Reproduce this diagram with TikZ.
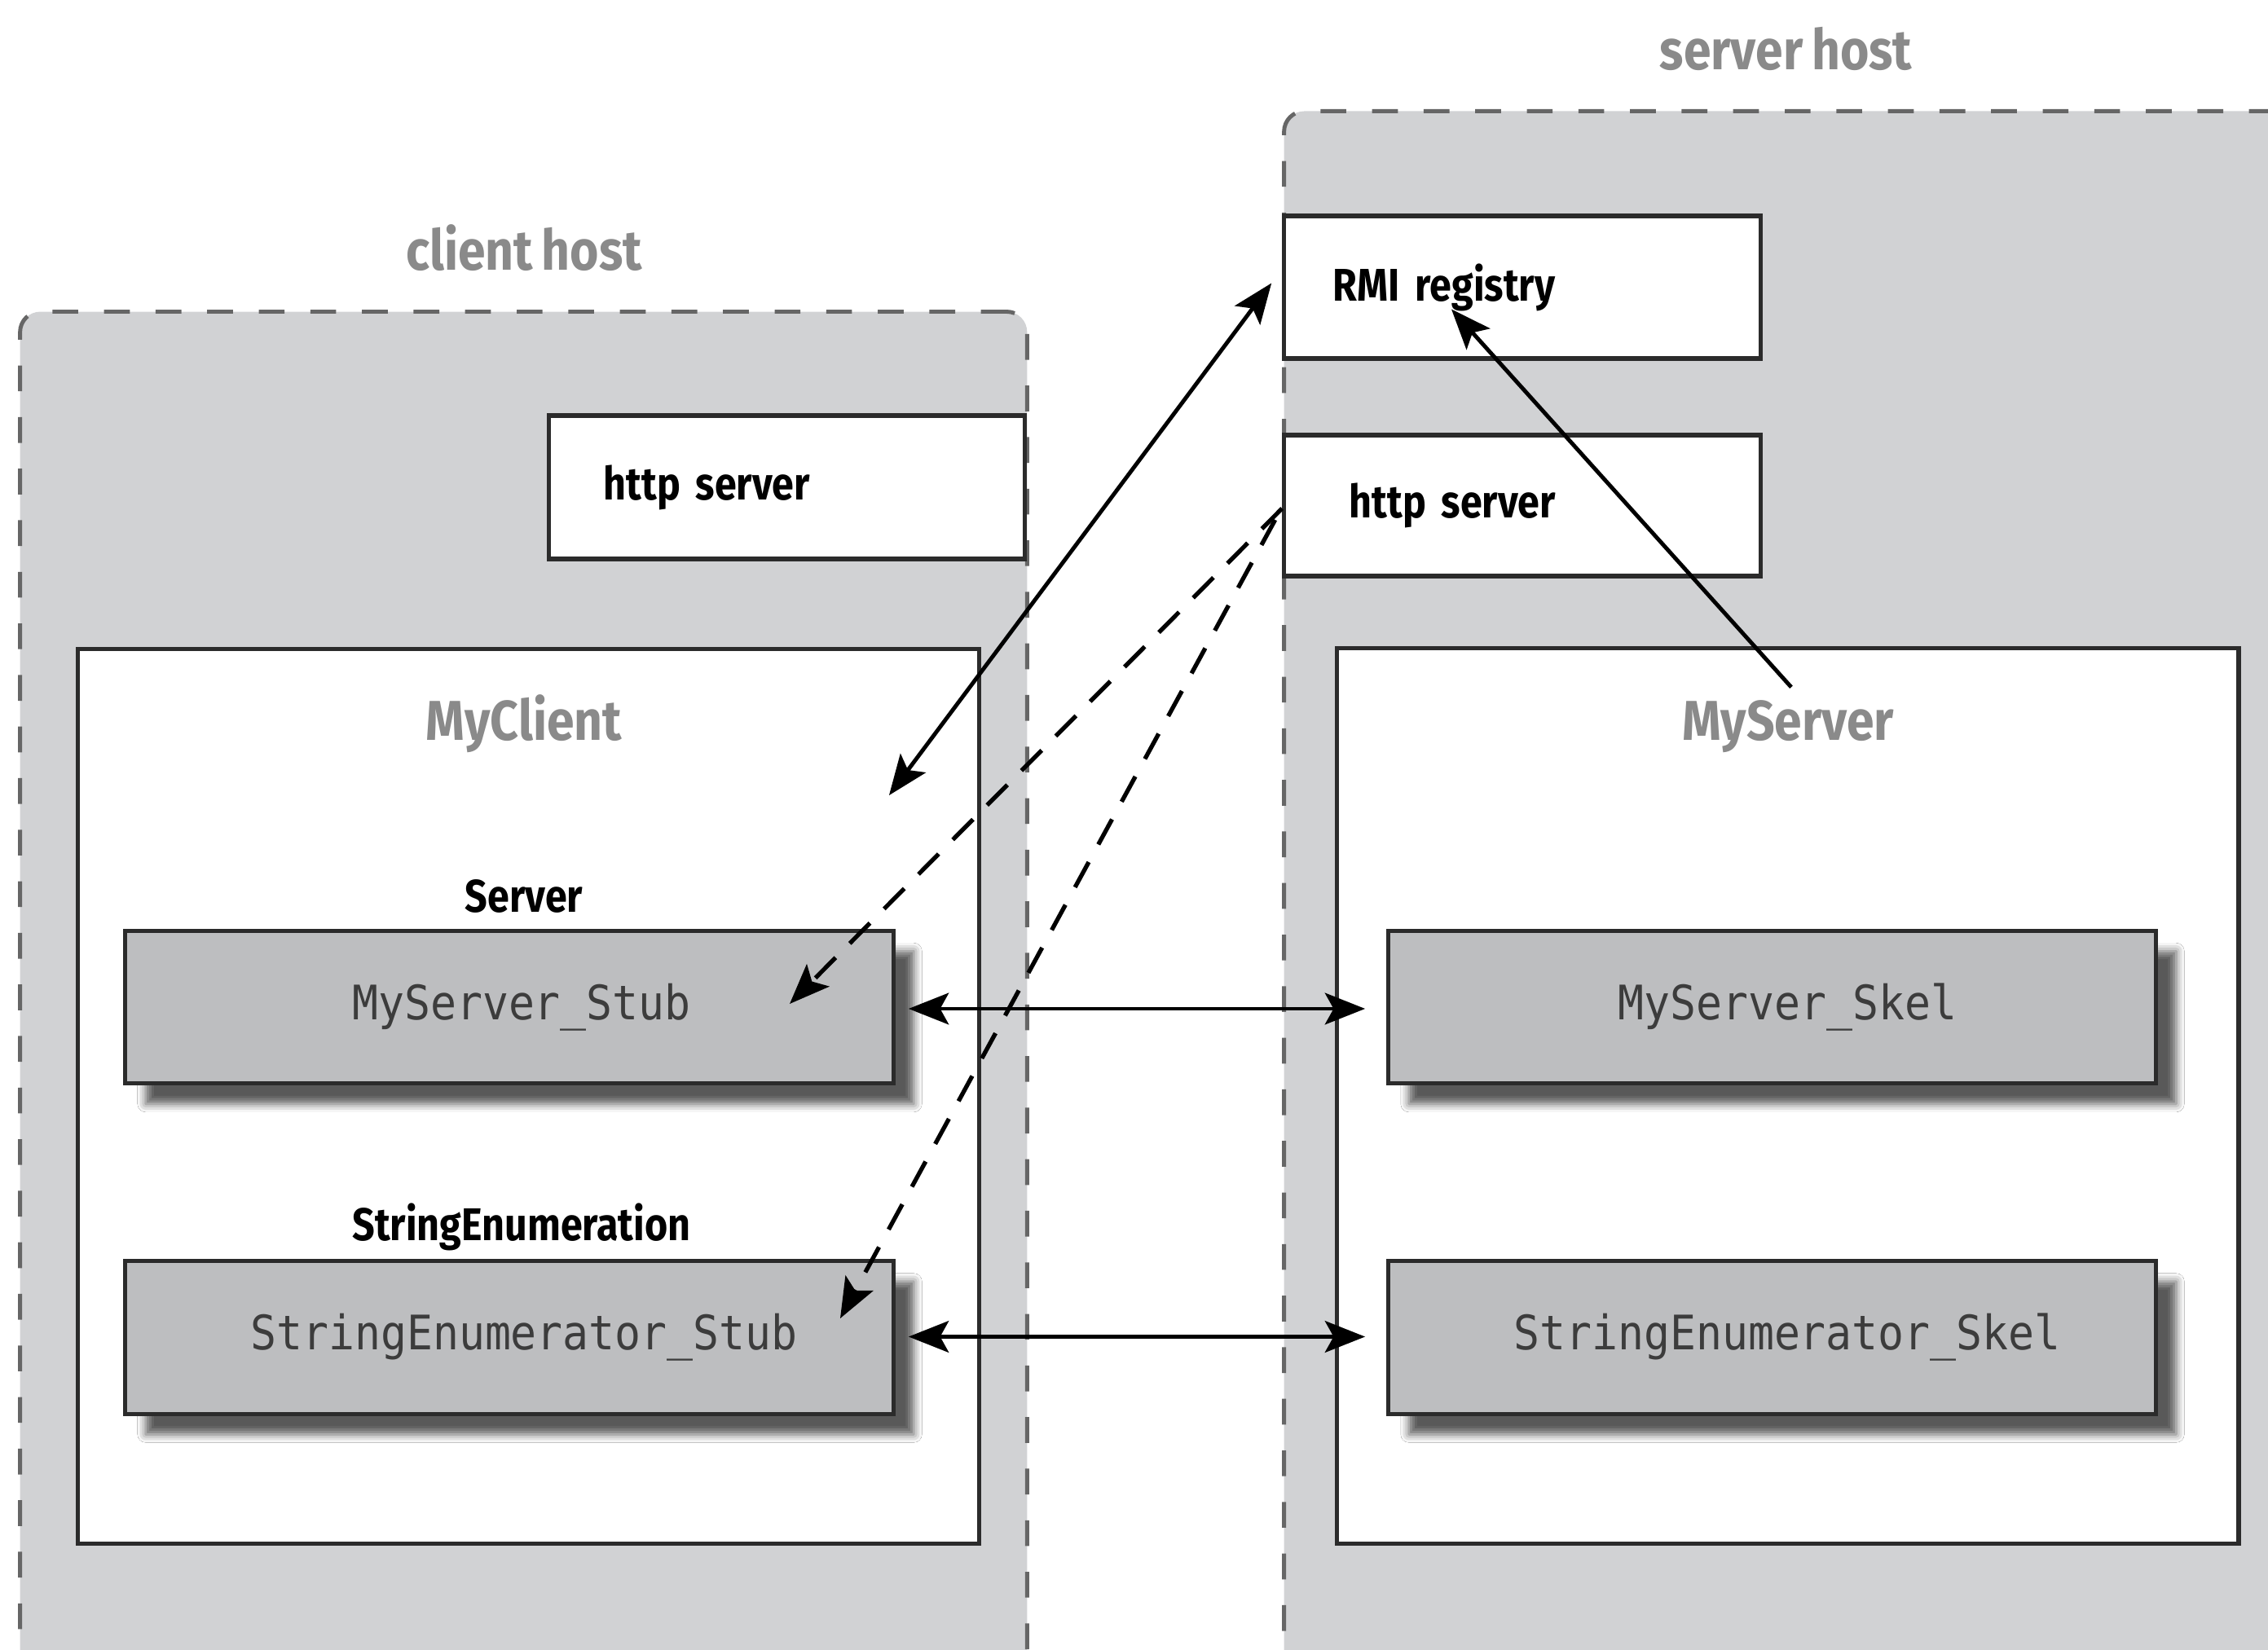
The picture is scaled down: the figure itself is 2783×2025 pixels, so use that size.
\documentclass[tikz,border=0pt]{standalone}
\usepackage{fontspec}
\newfontfamily\labfont[FakeStretch=0.86,WordSpace=0.75]{Fira Sans}
\newfontfamily\titlefont[FakeStretch=0.88,WordSpace=0.75]{Fira Sans}
\newfontfamily\codefont[FakeStretch=0.91]{DejaVu Sans Mono}
\usetikzlibrary{arrows.meta,shadows.blur,calc}
\definecolor{hostfill}{HTML}{D1D2D4}
\definecolor{stubfill}{HTML}{BDBEC0}
\definecolor{hostline}{HTML}{666666}
\definecolor{boxline}{HTML}{2B2B2B}
\definecolor{graytext}{HTML}{8A8A8A}
\definecolor{codetext}{HTML}{3C3C3C}
\tikzset{
  host/.style={draw=hostline, fill=hostfill, line width=1.4pt,
    dash pattern=on 9pt off 9pt, rounded corners=0.25cm, inner sep=0pt},
  plainbox/.style={draw=boxline, fill=white, line width=1.5pt, inner sep=0pt,
    font=\labfont\bfseries\fontsize{16}{18}\selectfont},
  stubbox/.style={draw=boxline, fill=stubfill, line width=1.5pt, inner sep=0pt,
    blur shadow={shadow xshift=0.25cm, shadow yshift=-0.25cm,
      shadow blur radius=0.1cm, shadow opacity=65},
    font=\codefont\fontsize{16.6}{18}\selectfont, text=codetext,
    minimum width=9.42cm, minimum height=1.875cm},
  lbl/.style={font=\labfont\bfseries\fontsize{16}{18}\selectfont, inner sep=0pt},
  title/.style={font=\titlefont\bfseries\fontsize{19.6}{22}\selectfont,
    text=graytext, inner sep=0pt},
  link/.style={line width=1.4pt, -{Stealth[length=14pt,width=11pt,inset=3pt]}},
  dbl/.style={line width=1.4pt,
    {Stealth[length=14pt,width=11pt,inset=3pt]}-{Stealth[length=14pt,width=11pt,inset=3pt]}},
  dlink/.style={line width=1.5pt, dash pattern=on 10pt off 7pt,
    -{Stealth[length=14pt,width=11pt,inset=3pt]}},
}
\begin{document}
\begin{tikzpicture}[x=0.01cm,y=-0.01cm]
\useasboundingbox (0,0) rectangle (2783,2025);
\clip (0,0) rectangle (2783,2025);

% hosts
\node[host, minimum width=12.35cm, minimum height=16.7cm] (clienthost) at (642.5,1218) {};
\node[host, minimum width=12.4cm, minimum height=19.2cm] (serverhost) at (2196,1097) {};
\node[title, anchor=base] (clienthostlbl) at (643,332) {client host};
\node[title, anchor=base] (serverhostlbl) at (2191.5,86) {server host};

% small server boxes
\node[plainbox, minimum width=5.83cm, minimum height=1.76cm, text width=4.49cm,
  inner xsep=0.67cm, align=left] (chttp) at (965.5,598) {http server};
\node[plainbox, minimum width=5.84cm, minimum height=1.75cm, text width=4.64cm,
  inner xsep=0.6cm, align=left] (rmi) at (1868,352.5) {RMI registry};
\node[plainbox, minimum width=5.84cm, minimum height=1.73cm, text width=4.24cm,
  inner xsep=0.8cm, align=left] (shttp) at (1868,620.5) {http server};

% containers
\node[plainbox, minimum width=11.05cm, minimum height=10.97cm] (myclient) at (648.5,1345.5) {};
\node[plainbox, minimum width=11.06cm, minimum height=10.98cm] (myserver) at (2193.7,1345) {};
\node[title, anchor=base] (myclientlbl) at (643,909) {MyClient};
\node[title, anchor=base] (myserverlbl) at (2194,909) {MyServer};

% stubs and skeletons
\node[lbl, anchor=base] (serverlbl) at (643,1120) {Server};
\node[lbl, anchor=base] (strenumlbl) at (640,1523) {StringEnumeration};
\node[stubbox] (stub1) at (625,1236) {\hspace*{0.3cm}MyServer\_Stub};
\node[stubbox] (stub2) at (625,1641.5) {\hspace*{0.36cm}StringEnumerator\_Stub};
\node[stubbox, minimum width=9.41cm] (skel1) at (2174.5,1236) {\hspace*{0.38cm}MyServer\_Skel};
\node[stubbox, minimum width=9.41cm] (skel2) at (2174.5,1641.5) {\hspace*{0.37cm}StringEnumerator\_Skel};

% connectors
\draw[dbl] ($(stub1.east)+(16,2)$) -- ($(skel1.west)+(-26,2)$);
\draw[dbl] ($(stub2.east)+(16,-1)$) -- ($(skel2.west)+(-26,-1)$);
\draw[dbl] ($(rmi.west)+(-13,-5)$) -- ($(myclient.north east)+(-113,182)$);
\draw[link] ($(myserverlbl.north)+(4,-16)$) -- ($(rmi.center)+(-87,27)$);
\draw[dlink] ($(shttp.west)+(0,3.5)$) -- ($(stub1.center)+(344,-4)$);
\draw[dlink] ($(shttp.west)+(-8.5,17.5)$) -- ($(stub2.center)+(406,-23.5)$);
\end{tikzpicture}
\end{document}
